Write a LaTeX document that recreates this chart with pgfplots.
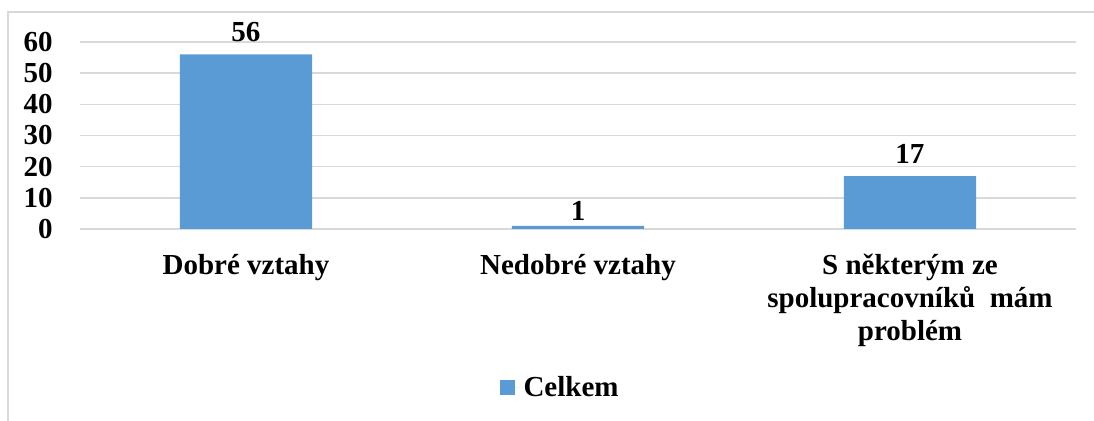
\documentclass[border=0pt]{standalone}
\usepackage{fontspec}
\setmainfont{Liberation Serif}
\usepackage{pgfplots}
\pgfplotsset{compat=1.18}
\definecolor{barblue}{HTML}{5B9BD5}
\definecolor{gridgray}{HTML}{D9D9D9}
\begin{document}
\begin{tikzpicture}[x=1pt,y=1pt]
\path[use as bounding box] (0,0) rectangle (547,210.5);
\draw[gridgray, line width=0.7pt] (4,0) -- (4,204.5) -- (547,204.5);
\begin{axis}[
  at={(40pt,96pt)}, anchor=south west,
  scale only axis, width=498pt, height=93.5pt,
  xmin=-0.5, xmax=2.5, ymin=0, ymax=60,
  ytick={0,10,...,60},
  xtick={0,1,2},
  xticklabels={Dobré vztahy, Nedobré vztahy, {S některým ze\\spolupracovníků\ \ mám\\problém}},
  axis line style={draw=none},
  major tick length=0pt,
  ymajorgrids, grid style={gridgray, line width=0.75pt},
  /pgf/number format/assume math mode=true,
  ticklabel style={font=\fontsize{14.5}{16.5}\selectfont\bfseries, inner sep=0pt},
  yticklabel shift=13.5pt,
  xticklabel shift=12.5pt,
  xticklabel style={align=center, anchor=north},
  ybar, bar width=66pt,
  nodes near coords,
  visualization depends on={y \as \rawy},
  nodes near coords style={font=\fontsize{14.5}{16.5}\selectfont\bfseries, anchor=south, inner sep=0pt, yshift={ifthenelse(\rawy<5,2.5,6)}},
  legend style={at={(0.483,-0.85)}, anchor=center, draw=none, fill=none, font=\fontsize{14.5}{16.5}\selectfont\bfseries, inner sep=0pt},
  legend image code/.code={\fill[#1] (0pt,-3.75pt) rectangle (7.5pt,3.75pt); \path (0pt,0pt) -- (10pt,0pt);},
]
\addplot[fill=barblue, draw=none] coordinates {(0,56) (1,1) (2,17)};
\addlegendentry{Celkem}
\end{axis}
\end{tikzpicture}
\end{document}
